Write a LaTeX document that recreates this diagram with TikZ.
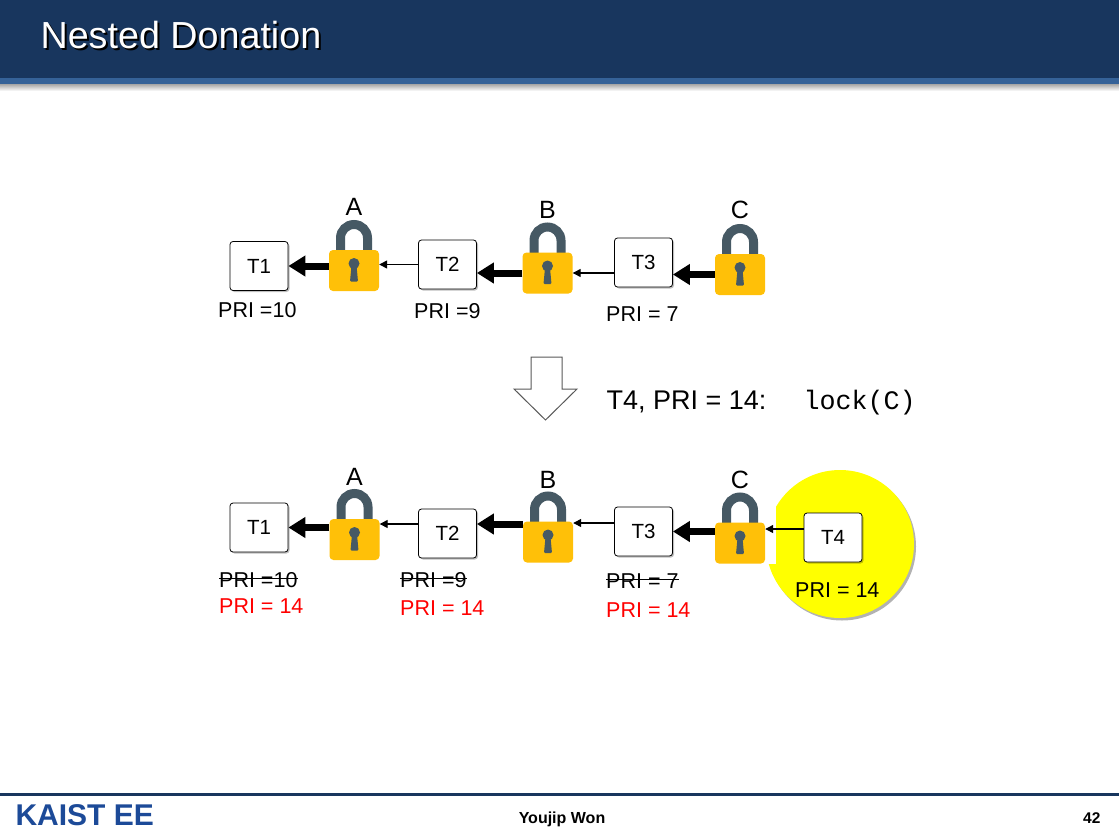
\documentclass[tikz,border=0pt]{standalone}
\usepackage{fontspec}
\setmainfont{Liberation Sans}
\newfontfamily\codefont{Liberation Mono}
\usepackage{tikz}
\usetikzlibrary{calc, arrows.meta, positioning, shadows}
\definecolor{headBlue}{RGB}{24,54,94}
\definecolor{stripeBlue}{RGB}{53,98,152}
\definecolor{lockAmber}{RGB}{255,192,8}
\definecolor{lockSlate}{RGB}{70,89,100}
\definecolor{logoBlue}{RGB}{28,74,152}
\definecolor{arrowGray}{gray}{0.35}
\definecolor{markYellow}{RGB}{255,255,0}

\begin{document}
\begin{tikzpicture}[x=1pt, y=1pt,
    tbox/.style={draw=black, line width=0.8pt, fill=white, rounded corners=3pt, minimum width=58pt, minimum height=49pt,
        font=\fontsize{20.5}{24}\selectfont, drop shadow={shadow xshift=1.5pt, shadow yshift=-1.5pt, fill=black, opacity=0.25}},
    lockbody/.style={fill=lockAmber, rounded corners=4pt, minimum width=50pt, minimum height=41pt, inner sep=0pt},
    shackle/.style={draw=lockSlate, line width=9pt},
    locklbl/.style={font=\fontsize{25}{28}\selectfont, inner sep=0pt},
    pri/.style={font=\fontsize{21.5}{24}\selectfont, anchor=base west, inner sep=0pt},
    fat/.style={line width=7pt, -{Triangle[length=17pt, width=20pt]}},
    thin/.style={line width=1.3pt, -{Triangle[length=8pt, width=8pt]}},
    padlock/.pic={
        \draw[shackle] (-13.5,17) -- (-13.5,32.5) arc[start angle=180, end angle=0, radius=13.5] -- (13.5,17);
        \node[lockbody] (-body) at (0,0) {};
        \fill[lockSlate] (0,7) circle (5.5);
        \fill[lockSlate, rounded corners=1pt] (-2.5,5) -- (2.5,5) -- (4,-11) -- (-4,-11) -- cycle;
    }]
    \useasboundingbox (0,0) rectangle (1119,-835);
    \fill[white] (0,0) rectangle (1119,-835);

    % Header
    \fill[headBlue] (0,0) rectangle (1119,-78);
    \fill[stripeBlue] (0,-78) rectangle (1119,-84);
    \shade[top color=black!35, bottom color=white] (0,-84) rectangle (1119,-91);
    \node[anchor=base west, font=\fontsize{37.7}{40}\selectfont, text=black] at (39,-50) {Nested Donation};
    \node[anchor=base west, font=\fontsize{37.7}{40}\selectfont, text=white] (title) at (37,-48) {Nested Donation};

    % Before
    \node[tbox] (t1) at (259,-266) {T1};
    \node[tbox] (t2) at (447.5,-264.5) {T2};
    \node[tbox] (t3) at (643.5,-262.5) {T3};
    \pic (lkA) at (354,-270.5) {padlock};
    \pic (lkB) at (547.5,-273) {padlock};
    \pic (lkC) at (740,-274.5) {padlock};
    \node[locklbl, above=34pt of lkA-body] (lA) {A};
    \node[locklbl, above=34pt of lkB-body] (lB) {B};
    \node[locklbl, above=35pt of lkC-body] (lC) {C};

    \draw[fat] (lkA-body.west |- t1) -- (t1.east);
    \draw[thin] (t2.west) -- (lkA-body.east |- t2);
    \draw[fat] (lkB-body.west) -- (t2.east |- lkB-body);
    \draw[thin] (t3.west |- lkB-body) -- (lkB-body.east);
    \draw[fat] (lkC-body.west) -- (t3.east |- lkC-body);

    \node[pri] (p1) at (218,-317.5) {PRI =10};
    \node[pri] (p2) at (414,-318) {PRI =9};
    \node[pri] (p3) at (606,-321) {PRI = 7};

    % Block arrow
    \draw[arrowGray, fill=white, line width=1pt] (531,-357) -- (562,-357) -- (562,-389) -- (577,-389)
        -- (545.5,-420) -- (514,-389) -- (531,-389) -- cycle;
    \node[anchor=base west, font=\fontsize{27}{30}\selectfont] (ev) at (603,-409) {T4, PRI = 14:};
    \node[anchor=base west, font=\codefont\fontsize{26.7}{30}\selectfont] (call) at (800,-409) {lock(C)};

    % After
    \node[circle, fill=markYellow, minimum size=148pt, drop shadow={shadow xshift=2pt, shadow yshift=-2.5pt, fill=black, opacity=0.3}] (hl) at (840,-544) {};
    \fill[white] (765,-500) rectangle (776,-564);

    \node[tbox] (t1b) at (259,-527.5) {T1};
    \node[tbox] (t2b) at (447.5,-533.5) {T2};
    \node[tbox] (t3b) at (643.5,-531.5) {T3};
    \node[tbox] (t4) at (833,-537.5) {T4};
    \pic (lkAb) at (354.5,-539.5) {padlock};
    \pic (lkBb) at (548,-542) {padlock};
    \pic (lkCb) at (740,-543) {padlock};
    \node[locklbl, above=33pt of lkAb-body] (lAb) {A};
    \node[locklbl, above=33pt of lkBb-body] (lBb) {B};
    \node[locklbl, above=33pt of lkCb-body] (lCb) {C};

    \coordinate (t2in) at ([yshift=9.5pt]t2b.west);
    \coordinate (lkBout) at ([yshift=18pt]lkBb-body.west);
    \coordinate (t3in) at ([yshift=8.5pt]t3b.west);
    \coordinate (t4in) at ([yshift=8.5pt]t4.west);
    \draw[fat] (lkAb-body.west |- t1b) -- (t1b.east);
    \draw[thin] (t2in) -- (t2in -| lkAb-body.east);
    \draw[fat] (lkBout) -- (lkBout -| t2b.east);
    \draw[thin] (t3in) -- (t3in -| lkBb-body.east);
    \draw[fat] (lkCb-body.west |- t3b) -- (t3b.east);
    \draw[thin] (t4in) -- (t4in -| lkCb-body.east);

    \node[pri] (q1) at (219,-587) {PRI =10};
    \node[pri] (q2) at (400,-587) {PRI =9};
    \node[pri] (q3) at (606,-588) {PRI = 7};
    \draw[line width=1.2pt] ([yshift=1.5pt]q1.west) -- ([yshift=1.5pt]q1.east);
    \draw[line width=1.2pt] ([yshift=1.5pt]q2.west) -- ([yshift=1.5pt]q2.east);
    \draw[line width=1.2pt] ([yshift=1.5pt]q3.west) -- ([yshift=1.5pt]q3.east);
    \node[pri, text=red] (r1) at (219,-613) {PRI = 14};
    \node[pri, text=red] (r2) at (400,-615) {PRI = 14};
    \node[pri, text=red] (r3) at (606,-617) {PRI = 14};
    \node[pri] (r4) at (795,-597) {PRI = 14};

    % Footer
    \fill[headBlue] (0,-793) rectangle (1119,-796);
    \node[anchor=base west, font=\bfseries\fontsize{30}{32}\selectfont, text=logoBlue] (logo) at (12,-825) {KAIST EE};
    \node[anchor=base, font=\bfseries\fontsize{16}{18}\selectfont] (author) at (562,-823) {Youjip Won};
    \node[anchor=base east, font=\bfseries\fontsize{15.5}{18}\selectfont] (page) at (1104,-823) {42};
\end{tikzpicture}
\end{document}
